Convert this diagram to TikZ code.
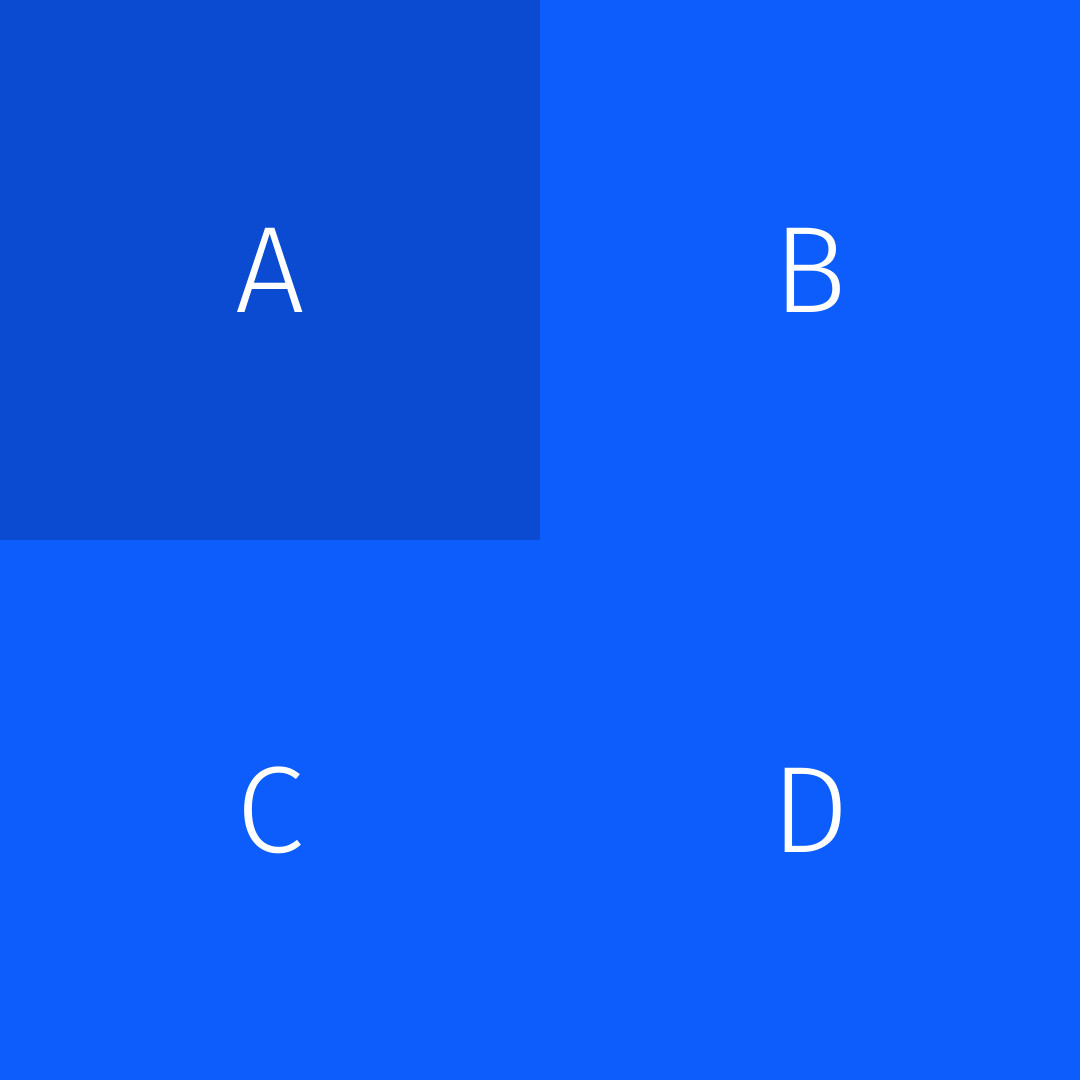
\documentclass[tikz,border=0pt]{standalone}
\usepackage{fontspec}
\setmainfont{Fira Sans Light}
\definecolor{tiledark}{HTML}{0A4BD2}
\definecolor{tileblue}{HTML}{0C5DFC}
\tikzset{
  tile/.style={minimum size=5.4cm, inner sep=0pt, outer sep=0pt, text=white, font=\fontsize{35}{38}\selectfont},
}
\begin{document}
\begin{tikzpicture}
  %
  % Background
  \useasboundingbox (0,0) rectangle (10.8,10.8);
  %
  % Tiles
  \node[tile, fill=tiledark] (A) at (2.7,8.1) {A};
  \node[tile, fill=tileblue] (B) at (8.1,8.1) {B};
  \node[tile, fill=tileblue] (C) at (2.7,2.7) {C};
  \node[tile, fill=tileblue] (D) at (8.1,2.7) {D};
\end{tikzpicture}
\end{document}
